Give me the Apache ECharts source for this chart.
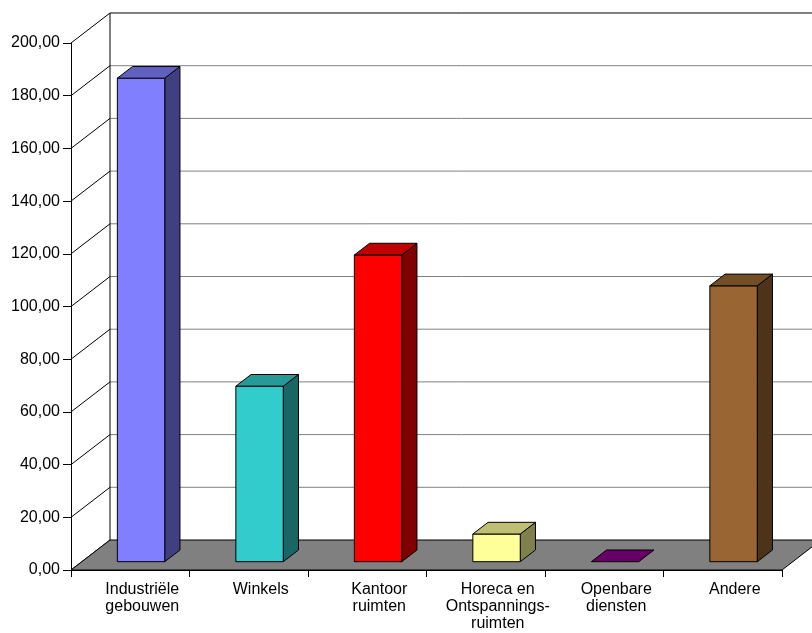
<!DOCTYPE html>
<html>
<head>
<meta charset="utf-8">
<script src="https://cdn.jsdelivr.net/npm/echarts@6/dist/echarts.min.js"></script>
<style>
  html, body { margin: 0; padding: 0; background: #fff; }
  #chart { width: 812px; height: 633px; }
</style>
</head>
<body>
<div id="chart"></div>
<script>
// Building categories and their values
const categories = [
  'Industriële\ngebouwen',
  'Winkels',
  'Kantoor\nruimten',
  'Horeca en\nOntspannings-\nruimten',
  'Openbare\ndiensten',
  'Andere'
];
const values = [183.5, 66.6, 116.4, 10.5, 0, 104.7];

// Value axis range
const yMin = 0;
const yMax = 200;
const yStep = 20;

// Face colours per bar: front, top, side
const frontColors = ['#8080FF', '#33CCCC', '#FF0000', '#FFFF99', '#660066', '#996633'];
const topColors   = ['#6060C0', '#269999', '#C00000', '#BFBF73', '#660066', '#734D26'];
const sideColors  = ['#404080', '#1A6666', '#800000', '#80804D', '#330033', '#4D331A'];

// Oblique projection: full depth of the box, and where the bars sit in it
const WALL_DX = 39;
const WALL_DY = -30;
const BAR_FRONT = 0.277;
const BAR_BACK = 0.667;
const BAR_WIDTH = 0.4;

const chart = echarts.init(document.getElementById('chart'), null, { renderer: 'canvas' });

function fmt(v) {
  return v.toFixed(2).replace('.', ',');
}

// Walls, gridlines and floor of the 3D box
function renderFrame(params, api) {
  const cs = params.coordSys;
  const left = cs.x;
  const right = cs.x + cs.width;
  const children = [];
  const yAt = v => api.coord([0, v])[1];
  const y0 = yAt(yMin);
  const yTop = yAt(yMax);

  // back wall
  children.push({
    type: 'polygon',
    shape: { points: [
      [left + WALL_DX, yTop + WALL_DY], [right + WALL_DX, yTop + WALL_DY],
      [right + WALL_DX, y0 + WALL_DY], [left + WALL_DX, y0 + WALL_DY]
    ] },
    style: { fill: '#fff', stroke: null }
  });

  for (let v = yMin; v <= yMax + 1e-9; v += yStep) {
    const y = yAt(v);
    // back wall gridline
    if (v > yMin && v < yMax) {
      children.push({
        type: 'line',
        shape: { x1: left + WALL_DX, y1: y + WALL_DY, x2: right + WALL_DX, y2: y + WALL_DY },
        style: { stroke: '#808080', lineWidth: 1 }
      });
    }
    // side wall diagonal
    children.push({
      type: 'line',
      shape: { x1: left, y1: y, x2: left + WALL_DX, y2: y + WALL_DY },
      style: { stroke: '#000', lineWidth: 1 }
    });
  }

  // top edge of the back wall
  children.push({
    type: 'line',
    shape: { x1: left + WALL_DX, y1: yTop + WALL_DY, x2: right + WALL_DX, y2: yTop + WALL_DY },
    style: { stroke: '#000', lineWidth: 1 }
  });
  // left edge of the back wall
  children.push({
    type: 'line',
    shape: { x1: left + WALL_DX, y1: yTop + WALL_DY, x2: left + WALL_DX, y2: y0 + WALL_DY },
    style: { stroke: '#000', lineWidth: 1 }
  });

  // floor
  children.push({
    type: 'polygon',
    shape: { points: [
      [left, y0], [right, y0],
      [right + WALL_DX, y0 + WALL_DY], [left + WALL_DX, y0 + WALL_DY]
    ] },
    style: { fill: '#808080', stroke: '#000', lineWidth: 1 }
  });

  return { type: 'group', children };
}

// One 3D box per category
function renderBar(params, api) {
  const i = api.value(0);
  const v = api.value(1);
  const base = api.coord([i, 0]);
  const top = api.coord([i, v]);
  const band = api.size([1, 0])[0];
  const hw = band * BAR_WIDTH / 2;
  const fx = WALL_DX * BAR_FRONT, fy = WALL_DY * BAR_FRONT;
  const bx = WALL_DX * BAR_BACK, by = WALL_DY * BAR_BACK;
  const xl = base[0] - hw, xr = base[0] + hw;
  const yb = base[1], yt = top[1];
  const idx = params.dataIndex;
  const edge = { stroke: '#000', lineWidth: 1, lineJoin: 'round' };
  const children = [];

  if (yb - yt > 0.5) {
    children.push({
      type: 'polygon',
      shape: { points: [[xr + fx, yt + fy], [xr + bx, yt + by], [xr + bx, yb + by], [xr + fx, yb + fy]] },
      style: Object.assign({ fill: sideColors[idx] }, edge)
    });
    children.push({
      type: 'polygon',
      shape: { points: [[xl + fx, yt + fy], [xr + fx, yt + fy], [xr + fx, yb + fy], [xl + fx, yb + fy]] },
      style: Object.assign({ fill: frontColors[idx] }, edge)
    });
  }
  children.push({
    type: 'polygon',
    shape: { points: [[xl + fx, yt + fy], [xr + fx, yt + fy], [xr + bx, yt + by], [xl + bx, yt + by]] },
    style: Object.assign({ fill: topColors[idx] }, edge)
  });
  return { type: 'group', children };
}

const textStyle = { fontFamily: "'Liberation Sans', Arial, Helvetica, sans-serif", fontSize: 16, color: '#000' };

chart.setOption({
  backgroundColor: '#fff',
  animation: false,
  grid: { left: 71, right: 30, top: 43, bottom: 63, containLabel: false },
  xAxis: {
    type: 'category',
    data: categories,
    boundaryGap: true,
    axisLine: { show: true, lineStyle: { color: '#000', width: 1 } },
    axisTick: { show: true, interval: 0, length: 7, lineStyle: { color: '#000' } },
    axisLabel: Object.assign({ interval: 0, margin: 11, lineHeight: 17.2, padding: [0, 0, 0, 24] }, textStyle),
    splitLine: { show: false }
  },
  yAxis: {
    type: 'value',
    min: yMin,
    max: yMax,
    interval: yStep,
    axisLine: { show: true, lineStyle: { color: '#000', width: 1 } },
    axisTick: { show: true, length: 8, lineStyle: { color: '#000' } },
    axisLabel: Object.assign({ margin: 11, formatter: fmt }, textStyle),
    splitLine: { show: false }
  },
  series: [
    {
      type: 'custom',
      name: 'frame',
      coordinateSystem: 'cartesian2d',
      clip: false,
      silent: true,
      z: 1,
      data: [[0, 0]],
      renderItem: renderFrame
    },
    {
      type: 'custom',
      name: 'bars',
      coordinateSystem: 'cartesian2d',
      clip: false,
      z: 3,
      data: values.map((v, i) => [i, v]),
      renderItem: renderBar
    }
  ]
});
</script>
</body>
</html>
